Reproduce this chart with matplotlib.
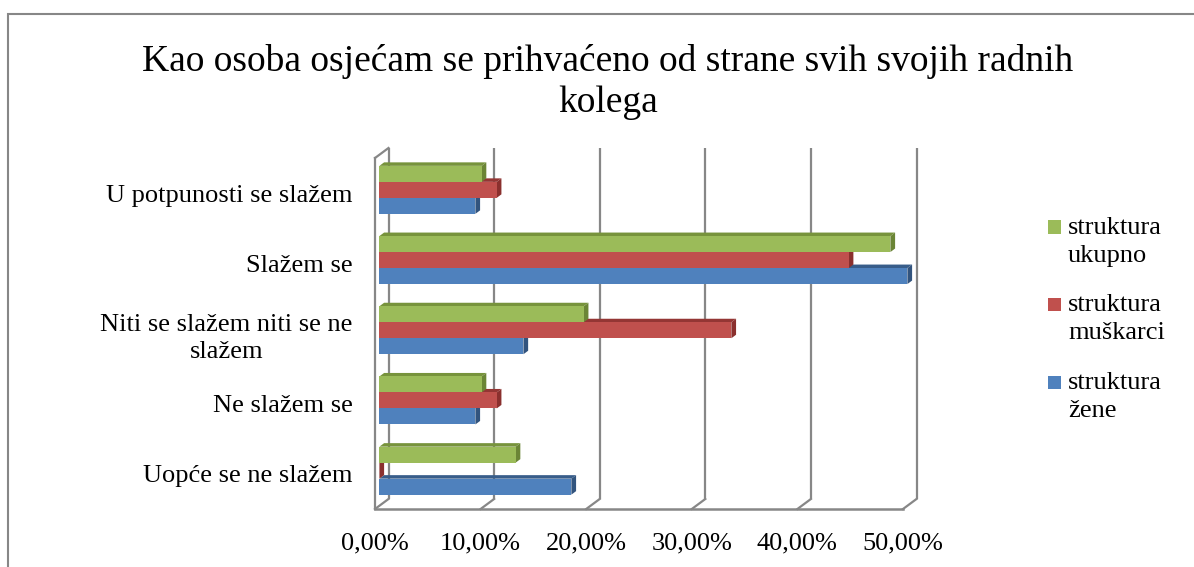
import matplotlib
matplotlib.use("Agg")
import matplotlib.pyplot as plt
from matplotlib.patches import Polygon, Rectangle

plt.rcParams['font.family'] = ['Liberation Serif', 'DejaVu Serif']

# podaci (udio odgovora u %)
categories = ['U potpunosti se slažem', 'Slažem se', 'Niti se slažem niti se ne\nslažem',
              'Ne slažem se', 'Uopće se ne slažem']
zene = [9.09, 50.00, 13.64, 9.09, 18.18]
muskarci = [11.11, 44.44, 33.33, 11.11, 0.00]
ukupno = [9.68, 48.39, 19.35, 9.68, 12.90]
series_names = ['struktura\nukupno', 'struktura\nmuškarci', 'struktura\nžene']
x_ticks = [0, 10, 20, 30, 40, 50]
x_tick_labels = ['0,00%', '10,00%', '20,00%', '30,00%', '40,00%', '50,00%']

title = 'Kao osoba osjećam se prihvaćeno od strane svih svojih radnih\nkolega'

W, H = 1194, 567
fig = plt.figure(figsize=(W / 100, H / 100), dpi=100)

# prednja ravnina grafa u pikselima
left, right, top, bottom = 375, 903, 158, 509
ax = fig.add_axes([left / W, 1 - bottom / H, (right - left) / W, (bottom - top) / H])
ax.set_xlim(0, 50)
ax.set_ylim(len(categories) - 0.5, -0.5)
for s in ax.spines.values():
    s.set_visible(False)

px_x = (right - left) / 50.0          # piksela po postotku
px_y = (bottom - top) / len(categories)  # piksela po kategoriji

def dx(p):
    return p / px_x

def dy(p):
    return p / px_y

grid_col = '#878787'
wall_dx, wall_dy = dx(13.5), dy(10)

# zidovi i linije mreže (pseudo 3D)
y_lo, y_hi = len(categories) - 0.5, -0.5
for xt in x_ticks:
    ax.plot([xt + wall_dx] * 2, [y_lo - wall_dy, y_hi - wall_dy], color=grid_col, lw=1.6,
            clip_on=False, zorder=1, solid_capstyle='butt')
    ax.plot([xt, xt + wall_dx], [y_lo, y_lo - wall_dy], color=grid_col, lw=1.6,
            clip_on=False, zorder=1)
ax.plot([0, 50], [y_lo, y_lo], color=grid_col, lw=1.8, clip_on=False, zorder=1)
ax.plot([0, 0], [y_lo, y_hi], color=grid_col, lw=1.6, clip_on=False, zorder=1)
ax.plot([0, wall_dx], [y_hi, y_hi - wall_dy], color=grid_col, lw=1.6, clip_on=False, zorder=1)

# stupci
front_dx, front_dy = dx(4.4), dy(3.25)
depth_dx, depth_dy = dx(4.7), dy(3.5)
bar_h = dy(16.0)

colors = {'ukupno': ('#9BBB59', '#77933C', '#6B8536'),
          'muskarci': ('#C0504D', '#943634', '#8A302E'),
          'zene': ('#4F81BD', '#385D8A', '#32547E')}

z = 3
for i in range(len(categories)):
    order = [('zene', zene[i], i + bar_h), ('muskarci', muskarci[i], i),
             ('ukupno', ukupno[i], i - bar_h)]
    for key, val, yc in order:
        face, topc, sidec = colors[key]
        x0 = front_dx
        x1 = front_dx + val
        yt = yc - bar_h / 2 - front_dy
        yb = yc + bar_h / 2 - front_dy
        ax.add_patch(Polygon([(x0, yt), (x1, yt), (x1 + depth_dx, yt - depth_dy),
                              (x0 + depth_dx, yt - depth_dy)], closed=True,
                             facecolor=topc, edgecolor='none', zorder=z, clip_on=False))
        ax.add_patch(Polygon([(x1, yt), (x1, yb), (x1 + depth_dx, yb - depth_dy),
                              (x1 + depth_dx, yt - depth_dy)], closed=True,
                             facecolor=sidec, edgecolor='none', zorder=z, clip_on=False))
        ax.barh(yc - front_dy, val, height=bar_h, left=x0, color=face, zorder=z,
                clip_on=False)
        z += 1

ax.set_xticks(x_ticks)
ax.set_xticklabels(x_tick_labels, fontsize=19)
ax.set_yticks(range(len(categories)))
ax.set_yticklabels(categories, fontsize=19)
for lab in ax.get_yticklabels():
    lab.set_multialignment('center')
    lab.set_linespacing(1.3)
ax.tick_params(axis='x', length=0, pad=17)
ax.tick_params(axis='y', length=0, pad=16)

fig.text(608 / W, 1 - 82 / H, title, ha='center', va='center', fontsize=27,
         linespacing=1.25)

# legenda
leg_items = [(series_names[0], colors['ukupno'][0], 227),
             (series_names[1], colors['muskarci'][0], 304),
             (series_names[2], colors['zene'][0], 382)]
for name, col, yc in leg_items:
    fig.add_artist(Rectangle((1048 / W, 1 - (yc + 6.5) / H), 13 / W, 13 / H,
                             transform=fig.transFigure, facecolor=col, edgecolor='none'))
    fig.text(1068 / W, 1 - (yc + 15) / H, name, ha='left', va='center', fontsize=19,
             linespacing=1.3)

# okvir grafikona
fig.add_artist(Rectangle((8 / W, -0.1), 1.2, 1 - 14 / H + 0.1, transform=fig.transFigure,
                         facecolor='none', edgecolor=grid_col, lw=1.5))

fig.savefig('out.png', dpi=100)
